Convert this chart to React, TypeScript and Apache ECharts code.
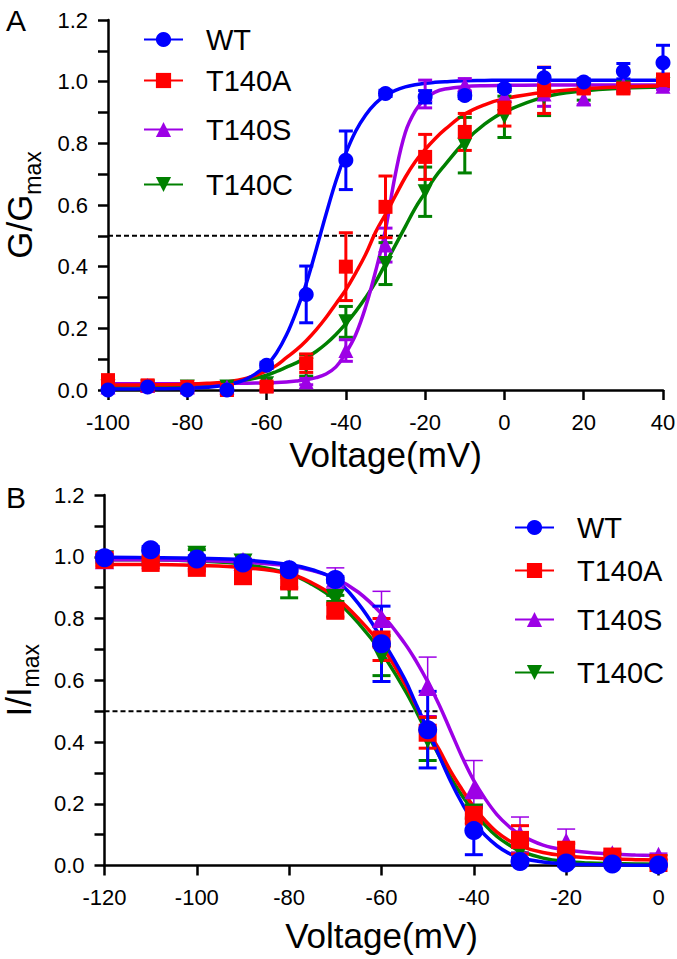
import React, { useEffect, useRef } from 'react';
import * as echarts from 'echarts';

const FONT = 'Arial, "Liberation Sans", Helvetica, sans-serif';

// ---------- groups ----------
const groupNames = ['WT', 'T140A', 'T140S', 'T140C'];
const groupColors = ['#0000ff', '#ff0000', '#9d00e6', '#008000'];
const groupSymbols = ['circle', 'rect', 'triangle', 'triangle'];
const groupRotate = [0, 0, 0, 180];

// ---------- Panel A : activation (G/Gmax) ----------
const voltA = [-100, -90, -80, -70, -60, -50, -40, -30, -20, -10, 0, 10, 20, 30, 40];
const wtA = [0.0, 0.01, 0.0, 0.0, 0.08, 0.31, 0.745, 0.962, 0.951, 0.955, 0.978, 1.013, 0.999, 1.034, 1.061];
const wtAErr = [0, 0, 0, 0, 0.01, 0.092, 0.095, 0.01, 0.02, 0.01, 0.01, 0.033, 0.01, 0.025, 0.057];
const t140aA = [0.032, 0.015, 0.01, 0.0, 0.011, 0.087, 0.4, 0.594, 0.756, 0.837, 0.916, 0.972, 0.978, 0.978, 1.005];
const t140aAErr = [0.01, 0.01, 0.01, 0.01, 0.01, 0.03, 0.11, 0.1, 0.073, 0.06, 0.06, 0.075, 0.015, 0.015, 0.02];
const t140sA = [0.01, 0.015, 0.01, 0.01, 0.015, 0.027, 0.128, 0.47, 0.96, 0.99, 0.955, 0.96, 0.945, 0.99, 0.985];
const t140sAErr = [0, 0, 0, 0, 0, 0.01, 0.035, 0.055, 0.045, 0.02, 0.02, 0.04, 0.02, 0.01, 0.01];
const t140cA = [0.01, 0.01, 0.01, 0.01, 0.02, 0.08, 0.221, 0.41, 0.643, 0.794, 0.886, 0.95, 0.97, 0.98, 0.99];
const t140cAErr = [0, 0, 0, 0, 0, 0.035, 0.05, 0.068, 0.08, 0.09, 0.067, 0.06, 0.03, 0.01, 0.01];

// fitted curves, panel A
const fitVoltA = [-100, -90, -80, -75, -70, -65, -60, -57.5, -55, -52.5, -50, -47.5, -45, -42.5, -40, -37.5, -35, -32.5, -30, -27.5, -25, -22.5, -20, -17.5, -15, -10, -5, 0, 10, 20, 30, 40];
const wtFitA = [0.003, 0.004, 0.006, 0.009, 0.017, 0.036, 0.08, 0.12, 0.178, 0.255, 0.345, 0.455, 0.57, 0.678, 0.768, 0.84, 0.892, 0.93, 0.955, 0.972, 0.983, 0.99, 0.995, 0.998, 1.0, 1.003, 1.004, 1.005, 1.005, 1.005, 1.005, 1.005];
const t140aFitA = [0.016, 0.017, 0.019, 0.022, 0.026, 0.038, 0.062, 0.08, 0.105, 0.13, 0.16, 0.195, 0.235, 0.28, 0.325, 0.38, 0.44, 0.512, 0.57, 0.63, 0.69, 0.74, 0.78, 0.815, 0.845, 0.895, 0.925, 0.945, 0.966, 0.977, 0.983, 0.987];
const t140sFitA = [0.02, 0.02, 0.02, 0.02, 0.021, 0.022, 0.023, 0.024, 0.026, 0.029, 0.033, 0.04, 0.052, 0.075, 0.12, 0.18, 0.27, 0.385, 0.52, 0.7, 0.835, 0.905, 0.945, 0.966, 0.976, 0.984, 0.987, 0.988, 0.989, 0.989, 0.989, 0.989];
const t140cFitA = [0.012, 0.013, 0.015, 0.018, 0.022, 0.032, 0.048, 0.06, 0.074, 0.088, 0.105, 0.125, 0.15, 0.18, 0.215, 0.255, 0.3, 0.35, 0.41, 0.47, 0.53, 0.59, 0.64, 0.69, 0.73, 0.805, 0.862, 0.902, 0.95, 0.97, 0.979, 0.983];
const halfLineA = [[-100, 0.5], [-24.7, 0.5]];

// ---------- Panel B : inactivation (I/Imax) ----------
const voltB = [-120, -110, -100, -90, -80, -70, -60, -50, -40, -30, -20, -10, 0];
const wtB = [0.997, 1.023, 0.993, 0.98, 0.958, 0.926, 0.718, 0.44, 0.113, 0.013, 0.008, 0.005, 0.002];
const wtBErr = [0.01, 0.01, 0.01, 0.01, 0.01, 0.01, 0.122, 0.124, 0.078, 0.01, 0.01, 0, 0];
const t140aB = [0.99, 0.98, 0.964, 0.937, 0.92, 0.825, 0.732, 0.43, 0.164, 0.083, 0.051, 0.029, 0.008];
const t140aBErr = [0.02, 0.01, 0.01, 0.01, 0.02, 0.02, 0.068, 0.05, 0.03, 0.046, 0.02, 0.01, 0.01];
const t140sB = [0.99, 0.99, 0.99, 0.985, 0.96, 0.93, 0.8, 0.58, 0.245, 0.1, 0.075, 0.035, 0.03];
const t140sBErr = [0.01, 0.01, 0.01, 0.01, 0.01, 0.034, 0.088, 0.095, 0.095, 0.057, 0.043, 0.01, 0.01];
const t140cB = [0.99, 0.99, 1.005, 0.98, 0.91, 0.865, 0.68, 0.41, 0.17, 0.05, 0.015, 0.008, 0.005];
const t140cBErr = [0.01, 0.01, 0.018, 0.01, 0.043, 0.01, 0.065, 0.07, 0.016, 0.01, 0.01, 0, 0];

const fitVoltB = [-120, -110, -100, -90, -80, -75, -70, -65, -60, -55, -52.5, -50, -47.5, -45, -42.5, -40, -37.5, -35, -32.5, -30, -25, -20, -15, -10, -5, 0];
const wtFitB = [0.998, 0.997, 0.995, 0.99, 0.975, 0.958, 0.925, 0.848, 0.735, 0.605, 0.522, 0.44, 0.355, 0.272, 0.2, 0.14, 0.097, 0.064, 0.04, 0.025, 0.011, 0.005, 0.003, 0.002, 0.001, 0.001];
const t140aFitB = [0.975, 0.975, 0.972, 0.965, 0.945, 0.915, 0.87, 0.8, 0.712, 0.59, 0.518, 0.44, 0.375, 0.305, 0.245, 0.19, 0.145, 0.108, 0.082, 0.063, 0.042, 0.031, 0.025, 0.021, 0.019, 0.018];
const t140sFitB = [0.99, 0.99, 0.988, 0.983, 0.97, 0.955, 0.93, 0.885, 0.815, 0.72, 0.662, 0.595, 0.52, 0.435, 0.35, 0.275, 0.215, 0.165, 0.128, 0.1, 0.066, 0.05, 0.042, 0.037, 0.034, 0.032];
const t140cFitB = [0.99, 0.99, 0.986, 0.976, 0.945, 0.91, 0.86, 0.785, 0.69, 0.57, 0.5, 0.425, 0.355, 0.285, 0.225, 0.175, 0.13, 0.094, 0.068, 0.047, 0.024, 0.013, 0.008, 0.006, 0.005, 0.004];
const halfLineB = [[-120, 0.5], [-47.6, 0.5]];

const xTicksA = { min: -100, max: 40, interval: 20 };
const xTicksB = { min: -120, max: 0, interval: 20 };
const yTicks = { min: 0, max: 1.2, interval: 0.2 };

// legend item centres (px) - layout only
const legendA = { x: 143, ys: [42, 83, 132, 187] };
const legendB = { x: 514, ys: [530, 573, 622, 675] };

type Panel = {
  volts: number[];
  pts: number[][];
  errs: number[][];
  fitV: number[];
  fits: number[][];
  half: number[][];
  sym: number;
  rectSym: number;
  cap: number;
  errW: number[];
};

const panels: Panel[] = [
  {
    volts: voltA,
    pts: [wtA, t140aA, t140sA, t140cA],
    errs: [wtAErr, t140aAErr, t140sAErr, t140cAErr],
    fitV: fitVoltA,
    fits: [wtFitA, t140aFitA, t140sFitA, t140cFitA],
    half: halfLineA,
    sym: 15,
    rectSym: 14,
    cap: 7,
    errW: [3, 3, 3, 3],
  },
  {
    volts: voltB,
    pts: [wtB, t140aB, t140sB, t140cB],
    errs: [wtBErr, t140aBErr, t140sBErr, t140cBErr],
    fitV: fitVoltB,
    fits: [wtFitB, t140aFitB, t140sFitB, t140cFitB],
    half: halfLineB,
    sym: 19,
    rectSym: 18,
    cap: 9,
    errW: [3, 3, 1.5, 3],
  },
];

const drawOrder = [3, 2, 1, 0];

function buildOption() {
  const series: any[] = [];
  panels.forEach((p, pi) => {
    series.push({
      type: 'line',
      xAxisIndex: pi,
      yAxisIndex: pi,
      data: p.half,
      showSymbol: false,
      symbol: 'none',
      silent: true,
      lineStyle: { color: '#000', width: 2, type: [5, 3] },
      z: 1,
    });
    drawOrder.forEach((g) => {
      series.push({
        type: 'line',
        name: groupNames[g],
        xAxisIndex: pi,
        yAxisIndex: pi,
        data: p.fitV.map((v, i) => [v, p.fits[g][i]]),
        smooth: 0.4,
        symbol: groupSymbols[g],
        symbolRotate: groupRotate[g],
        showSymbol: false,
        lineStyle: { color: groupColors[g], width: 3.5 },
        itemStyle: { color: groupColors[g] },
        z: 2,
      });
    });
    drawOrder.forEach((g) => {
      const color = groupColors[g];
      const w = p.errW[g];
      const cap = p.cap;
      series.push({
        type: 'custom',
        name: groupNames[g],
        xAxisIndex: pi,
        yAxisIndex: pi,
        data: p.volts.map((v, i) => [v, p.pts[g][i], p.errs[g][i]]),
        encode: { x: 0, y: 1 },
        z: 3,
        renderItem: (params: any, api: any) => {
          const x = api.value(0);
          const y = api.value(1);
          const e = api.value(2);
          if (!e) return { type: 'group', children: [] };
          const t = api.coord([x, y + e]);
          const b = api.coord([x, y - e]);
          const st = { stroke: color, lineWidth: w };
          return {
            type: 'group',
            children: [
              { type: 'line', shape: { x1: t[0], y1: t[1], x2: b[0], y2: b[1] }, style: st },
              { type: 'line', shape: { x1: t[0] - cap, y1: t[1], x2: t[0] + cap, y2: t[1] }, style: st },
              { type: 'line', shape: { x1: b[0] - cap, y1: b[1], x2: b[0] + cap, y2: b[1] }, style: st },
            ],
          };
        },
      });
    });
    drawOrder.forEach((g) => {
      series.push({
        type: 'scatter',
        name: groupNames[g],
        xAxisIndex: pi,
        yAxisIndex: pi,
        data: p.volts.map((v, i) => [v, p.pts[g][i]]),
        symbol: groupSymbols[g],
        symbolRotate: groupRotate[g],
        symbolSize: groupSymbols[g] === 'rect' ? p.rectSym : p.sym,
        itemStyle: { color: groupColors[g], opacity: 1 },
        z: 4,
      });
    });
  });

  const legends: any[] = [];
  [legendA, legendB].forEach((L) => {
    groupNames.forEach((name, g) => {
      legends.push({
        data: [name],
        left: L.x,
        top: L.ys[g] - 17,
        padding: 0,
        itemWidth: 39,
        itemHeight: 19,
        selectedMode: false,
        textStyle: { fontSize: 29, color: '#000', fontFamily: FONT, padding: [0, 0, 0, 18] },
      });
    });
  });

  const axisLine = { show: true, onZero: false, lineStyle: { color: '#000', width: 2.5 } };
  const axisTick = { show: true, inside: false, length: 10, lineStyle: { color: '#000', width: 2.5 } };

  const mkX = (ticks: any, gi: number) => ({
    type: 'value',
    gridIndex: gi,
    min: ticks.min,
    max: ticks.max,
    interval: ticks.interval,
    axisLine,
    axisTick,
    splitLine: { show: false },
    axisLabel: { fontSize: 22, color: '#000', fontFamily: FONT, margin: 21 },
    name: 'Voltage(mV)',
    nameLocation: 'middle',
    nameGap: gi === 0 ? 47 : 52,
    nameTextStyle: { fontSize: 35, color: '#000', fontFamily: FONT },
  });

  const mkY = (gi: number, letter: string) => ({
    type: 'value',
    gridIndex: gi,
    min: yTicks.min,
    max: yTicks.max,
    interval: yTicks.interval,
    axisLine,
    axisTick,
    minorTick: { show: true, splitNumber: 2, length: 10, lineStyle: { color: '#000', width: 2.5 } },
    splitLine: { show: false },
    minorSplitLine: { show: false },
    axisLabel: {
      fontSize: 22,
      color: '#000',
      fontFamily: FONT,
      margin: 20,
      formatter: (v: number) => v.toFixed(1),
    },
    name: `{m|${letter}/${letter}}{s|max}`,
    nameLocation: 'middle',
    nameRotate: 90,
    nameGap: gi === 0 ? 64 : 62,
    nameTextStyle: {
      rich: {
        m: { fontSize: 35, color: '#000', fontFamily: FONT, verticalAlign: 'bottom', padding: [0, 0, 7, 0] },
        s: { fontSize: 23, color: '#000', fontFamily: FONT, verticalAlign: 'bottom' },
      },
    },
  });

  return {
    animation: false,
    backgroundColor: '#fff',
    grid: [
      { left: 108, top: 20, width: 555, height: 370, containLabel: false, outerBoundsMode: 'none' },
      { left: 104.5, top: 495, width: 554, height: 370.5, containLabel: false, outerBoundsMode: 'none' },
    ],
    xAxis: [mkX(xTicksA, 0), mkX(xTicksB, 1)],
    yAxis: [mkY(0, 'G'), mkY(1, 'I')],
    legend: legends,
    graphic: [
      { type: 'text', left: 6, top: 5, style: { text: 'A', font: `30px ${FONT}`, fill: '#000' } },
      { type: 'text', left: 6, top: 482, style: { text: 'B', font: `30px ${FONT}`, fill: '#000' } },
    ],
    series,
  };
}

export default function App() {
  const ref = useRef<HTMLDivElement>(null);
  useEffect(() => {
    if (!ref.current) return;
    const chart = echarts.init(ref.current, null, { renderer: 'svg' });
    chart.setOption(buildOption() as any);
    return () => chart.dispose();
  }, []);
  return (
    <div
      ref={ref}
      style={{ position: 'absolute', left: 0, top: 0, width: 677, height: 959, background: '#fff' }}
    />
  );
}
